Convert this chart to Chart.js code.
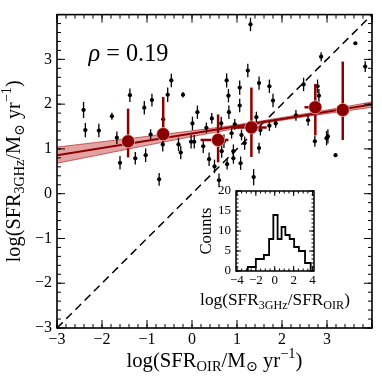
<!DOCTYPE html>
<html><head><meta charset="utf-8">
<script src="https://cdn.jsdelivr.net/npm/chart.js@4"></script>
<style>
html,body{margin:0;padding:0;background:#fff;}
#wrap{position:relative;width:382px;height:382px;}
#main{position:absolute;left:0;top:0;}
#inset{position:absolute;left:190px;top:178px;}
</style>
</head><body>
<div id="wrap"><canvas id="main" width="382" height="382"></canvas><canvas id="inset" width="180" height="140"></canvas></div>
<script>
// ---------------- data ----------------
const ptX = [-2.41,-2.37,-2.07,-1.78,-1.67,-1.60,-1.38,-1.26,-1.06,-1.03,-0.89,-0.92,-0.73,-0.65,-0.64,-0.54,-0.46,-0.20,-0.30,-0.25,
  1.30,3.63,3.85,2.87,2.48,2.79,2.82,0.77,1.24,1.49,1.72,1.06,0.81,0.82,1.06,1.80,0.12,0.44,0.01,0.65,0.95,1.43,1.52,1.72,1.86,2.31,2.58,
  0.88,1.10,-0.02,0.05,0.25,0.71,1.17,1.49,0.66,0.92,0.38,0.50,0.78,0.92,1.08,1.37,0.60,2.73,2.99,3.02,3.19,0.32];
const ptY = [1.87,1.42,1.41,1.73,1.25,0.69,2.20,0.79,1.92,0.86,2.09,1.32,0.32,1.10,1.66,2.21,2.53,2.21,1.10,0.92,
  3.78,3.36,2.84,3.06,2.44,2.40,2.19,2.53,2.75,2.47,2.40,2.37,2.19,1.82,1.97,2.08,1.82,1.68,1.57,1.57,1.55,1.71,1.42,1.52,1.57,1.75,1.64,
  1.35,1.31,1.16,1.16,1.06,1.17,1.13,1.02,0.95,0.95,0.77,0.61,0.66,0.79,0.68,0.37,0.30,1.17,1.24,1.28,0.86,1.47];
const ptYErr = [0.18,0.16,0.15,0.08,0.14,0.15,0.15,0.14,0.15,0.15,0.14,0.12,0.14,0.16,0.15,0.16,0.15,0.06,0.15,0.15,
  0.15,0,0.12,0.10,0.15,0.15,0.15,0.16,0.15,0.15,0.15,0.16,0.15,0.15,0.15,0.15,0.15,0.12,0.15,0.15,0.12,0.12,0.12,0.12,0.10,0.12,0.12,
  0.12,0.12,0.15,0.15,0.15,0.15,0.15,0.12,0.15,0.15,0.15,0.15,0.12,0.12,0.15,0.18,0.15,0.12,0.16,0.16,0,0.12];
const ptXErr = 0.04;

const binX   = [-1.42,-0.64,0.58,1.32,2.74,3.35];
const binY   = [1.17,1.33,1.20,1.48,1.93,1.87];
const binYLo = [0.81,1.16,0.70,0.82,1.30,1.20];
const binYHi = [1.90,2.16,1.77,2.37,2.45,2.95];
const binXLo = [-1.42,-0.64,0.19,0.87,2.50,3.19];
const binXHi = [-1.42,-0.64,0.81,1.66,2.88,3.47];

const fitX = [-3, 4];
const fitY = [0.86, 1.99];
const bandX  = [-3,-2,-1,0,1,2,3,4];
const bandLo = [0.68,0.88,1.08,1.275,1.46,1.64,1.79,1.93];
const bandHi = [1.04,1.16,1.28,1.405,1.54,1.70,1.87,2.05];

const oneX = [-3, 4];
const oneY = [-3, 4];

const xTicks = [-3,-2,-1,0,1,2,3];
const yTicks = [-3,-2,-1,0,1,2,3];

// inset histogram
const histEdges  = [-2.85,-2.0,-1.15,-0.6,-0.15,0.3,0.72,1.12,1.58,2.05,2.55,3.2,3.8];
const histCounts = [1,3,4,8,14,8,11,9,8,6,5,2];
const inXTicks = [-4,-2,0,2,4];
const inYTicks = [0,5,10,15,20];

// ---------------- helpers ----------------
const FONT = "'Liberation Serif','DejaVu Serif',serif";
const RED = '#8b0000';
const fmt = v => (v < 0 ? '\u2212' + Math.abs(v) : String(v));
const xy = (xs, ys) => xs.map((x, i) => ({x, y: ys[i]}));

function richWidth(ctx, segs, size){
  let w = 0;
  for (const s of segs){
    const sz = s.k === 'n' ? size : size*0.7;
    ctx.font = (s.i ? 'italic ' : '') + sz + 'px ' + FONT;
    w += ctx.measureText(s.t).width;
  }
  return w;
}
function drawRich(ctx, segs, size, x0){
  let x = x0;
  for (const s of segs){
    const sz = s.k === 'n' ? size : size*0.7;
    ctx.font = (s.i ? 'italic ' : '') + sz + 'px ' + FONT;
    const dy = s.k === 'sub' ? size*0.22 : (s.k === 'sup' ? -size*0.4 : 0);
    ctx.fillText(s.t, x, dy);
    x += ctx.measureText(s.t).width;
  }
}
function fitSize(ctx, segs, base, target){
  return base * target / richWidth(ctx, segs, base);
}
function drawLabel(ctx, segs, cx, cy, rot, base, target){
  const size = fitSize(ctx, segs, base, target);
  const w = richWidth(ctx, segs, size);
  ctx.save();
  ctx.translate(cx, cy);
  if (rot) ctx.rotate(-Math.PI/2);
  ctx.fillStyle = '#000';
  ctx.textBaseline = 'alphabetic';
  ctx.textAlign = 'left';
  drawRich(ctx, segs, size, -w/2);
  ctx.restore();
}

const frameTicks = {
  id: 'frameTicks',
  beforeDatasetsDraw(chart, args, o){
    if (o.bg){ const a = chart.chartArea; chart.ctx.save(); chart.ctx.fillStyle = '#fff';
      chart.ctx.fillRect(a.left, a.top, a.right - a.left, a.bottom - a.top); chart.ctx.restore(); }
  },
  afterDraw(chart, args, o){
    const {ctx, chartArea: a, scales: {x, y}} = chart;
    ctx.save();
    ctx.strokeStyle = '#000';
    ctx.lineWidth = o.tickWidth;
    const seg = (x1, y1, x2, y2) => { ctx.beginPath(); ctx.moveTo(x1, y1); ctx.lineTo(x2, y2); ctx.stroke(); };
    const marks = (min, max, step) => { const r = []; const n = Math.round((max - min)/step);
      for (let i = 0; i <= n; i++) r.push(min + i*step); return r; };
    for (const [vals, len] of [[marks(o.xMinorStart, x.max, o.xMinor), o.minorLen], [marks(o.xMajorStart, x.max, o.xMajor), o.majorLen]]){
      for (const v of vals){ if (v < x.min - 1e-9 || v > x.max + 1e-9) continue; const p = x.getPixelForValue(v);
        seg(p, a.bottom, p, a.bottom - len); seg(p, a.top, p, a.top + len); }
    }
    for (const [vals, len] of [[marks(o.yMinorStart, y.max, o.yMinor), o.minorLen], [marks(o.yMajorStart, y.max, o.yMajor), o.majorLen]]){
      for (const v of vals){ if (v < y.min - 1e-9 || v > y.max + 1e-9) continue; const p = y.getPixelForValue(v);
        seg(a.left, p, a.left + len, p); seg(a.right, p, a.right - len, p); }
    }
    ctx.lineWidth = o.frameWidth;
    ctx.strokeRect(a.left, a.top, a.right - a.left, a.bottom - a.top);
    ctx.restore();
    if (o.after) o.after(chart);
  }
};

const errorBars = {
  id: 'errorBars',
  beforeDatasetDraw(chart, args){
    const ds = chart.data.datasets[args.index];
    if (!ds.err) return;
    const {ctx, scales: {x, y}} = chart;
    const e = ds.err;
    ctx.save();
    ctx.strokeStyle = e.color; ctx.lineWidth = e.width; ctx.lineCap = 'butt';
    ds.data.forEach((p, i) => {
      const px = x.getPixelForValue(p.x), py = y.getPixelForValue(p.y);
      const ylo = e.ylo(i), yhi = e.yhi(i), xlo = e.xlo(i), xhi = e.xhi(i);
      if (yhi > ylo){ ctx.beginPath(); ctx.moveTo(px, y.getPixelForValue(ylo)); ctx.lineTo(px, y.getPixelForValue(yhi)); ctx.stroke(); }
      if (xhi > xlo){ ctx.beginPath(); ctx.moveTo(x.getPixelForValue(xlo), py); ctx.lineTo(x.getPixelForValue(xhi), py); ctx.stroke(); }
    });
    ctx.restore();
  }
};

// ---------------- main chart ----------------
const yLabelSegs = [{t:'log(SFR',k:'n'},{t:'3GHz',k:'sub'},{t:'/M',k:'n'},{t:'\u2299',k:'sub'},{t:' yr',k:'n'},{t:'\u22121',k:'sup'},{t:')',k:'n'}];
const xLabelSegs = [{t:'log(SFR',k:'n'},{t:'OIR',k:'sub'},{t:'/M',k:'n'},{t:'\u2299',k:'sub'},{t:' yr',k:'n'},{t:'\u22121',k:'sup'},{t:')',k:'n'}];
const rhoSegs = [{t:'\u03c1',k:'n',i:true},{t:' = 0.19',k:'n'}];

new Chart(document.getElementById('main'), {
  type: 'scatter',
  data: {
    datasets: [
      { type:'line', data: xy(oneX, oneY), borderColor:'#000', borderWidth:1.5, borderDash:[8,5], pointRadius:0, fill:false, order:6 },
      { type:'line', data: xy(bandX, bandHi), borderColor:'rgba(185,45,45,0.75)', borderWidth:1, pointRadius:0, fill:'+1', backgroundColor:'rgba(195,50,50,0.45)', tension:0.4, order:5 },
      { type:'line', data: xy(bandX, bandLo), borderColor:'rgba(185,45,45,0.75)', borderWidth:1, pointRadius:0, fill:false, tension:0.4, order:4 },
      { data: xy(ptX, ptY), pointRadius:2.1, pointBackgroundColor:'#000', pointBorderWidth:0, order:3,
        err: { color:'#000', width:1.3,
          ylo: i => ptY[i] - ptYErr[i], yhi: i => ptY[i] + ptYErr[i],
          xlo: i => ptYErr[i] > 0 ? ptX[i] - ptXErr : ptX[i], xhi: i => ptYErr[i] > 0 ? ptX[i] + ptXErr : ptX[i] } },
      { type:'line', data: xy(fitX, fitY), borderColor: RED, borderWidth:2, pointRadius:0, fill:false, order:2 },
      { data: xy(binX, binY), pointRadius:6.6, pointBackgroundColor: RED, pointBorderColor:'rgba(255,225,225,0.8)', pointBorderWidth:0.8, order:1,
        err: { color: RED, width:2.5,
          ylo: i => binYLo[i], yhi: i => binYHi[i], xlo: i => binXLo[i], xhi: i => binXHi[i] } }
    ]
  },
  options: {
    responsive:false, animation:false, devicePixelRatio:1,
    layout: { padding: { left:0, top:7, right:10, bottom:0 } },
    plugins: {
      legend:{display:false}, tooltip:{enabled:false},
      frameTicks: { xMajor:1, xMajorStart:-3, xMinor:0.2, xMinorStart:-3, yMajor:1, yMajorStart:-3, yMinor:0.2, yMinorStart:-3,
        majorLen:8, minorLen:4, tickWidth:1, frameWidth:1.6,
        after: chart => {
          const ctx = chart.ctx, a = chart.chartArea;
          drawLabel(ctx, xLabelSegs, (a.left + a.right)/2, 366.5, false, 17, 176);
          drawLabel(ctx, yLabelSegs, 19.5, (a.top + a.bottom)/2, true, 17, 182);
          // rho annotation
          const size = fitSize(ctx, rhoSegs, 20, 80);
          ctx.save(); ctx.fillStyle = '#000'; ctx.textBaseline = 'alphabetic';
          ctx.translate(a.left + 0.1*(a.right - a.left), a.top + 0.125*(a.bottom - a.top) + 7);
          drawRich(ctx, rhoSegs, size, 0); ctx.restore();
        } }
    },
    scales: {
      x: { type:'linear', min:-3, max:4, position:'bottom',
        grid:{display:false, drawTicks:false}, border:{display:false},
        afterBuildTicks: s => { s.ticks = xTicks.map(v => ({value:v})); },
        afterFit: s => { s.height = 54; },
        ticks: { font:{family:FONT, size:16}, color:'#000', padding:2, maxRotation:0, autoSkip:false, callback: v => fmt(v) } },
      y: { type:'linear', min:-3, max:4, position:'left',
        grid:{display:false, drawTicks:false}, border:{display:false},
        afterBuildTicks: s => { s.ticks = yTicks.map(v => ({value:v})); },
        afterFit: s => { s.width = 57; },
        ticks: { font:{family:FONT, size:16}, color:'#000', padding:5, autoSkip:false, callback: v => fmt(v) } }
    }
  },
  plugins: [errorBars, frameTicks]
});

// ---------------- inset ----------------
const histPts = [{x: histEdges[0], y: 0}];
histCounts.forEach((c, i) => histPts.push({x: histEdges[i], y: c}));
histPts.push({x: histEdges[histEdges.length - 1], y: 0});

const inXLabelSegs = [{t:'log(SFR',k:'n'},{t:'3GHz',k:'sub'},{t:'/SFR',k:'n'},{t:'OIR',k:'sub'},{t:')',k:'n'}];
const countsSegs = [{t:'Counts',k:'n'}];

new Chart(document.getElementById('inset'), {
  type: 'line',
  data: { datasets: [ { data: histPts, stepped: true, borderColor:'#000', borderWidth:1.8, pointRadius:0, fill:false } ] },
  options: {
    responsive:false, animation:false, devicePixelRatio:1,
    layout: { padding: { left:0, top:13, right:56, bottom:0 } },
    plugins: {
      legend:{display:false}, tooltip:{enabled:false},
      frameTicks: { bg:true, xMajor:2, xMajorStart:-4, xMinor:0.5, xMinorStart:-4, yMajor:5, yMajorStart:0, yMinor:1, yMinorStart:0,
        majorLen:5, minorLen:2.5, tickWidth:1, frameWidth:1.5,
        after: chart => {
          const ctx = chart.ctx, a = chart.chartArea;
          drawLabel(ctx, inXLabelSegs, (a.left + a.right)/2, 127, false, 14, 150);
          drawLabel(ctx, countsSegs, 21, (a.top + a.bottom)/2, true, 14, 47);
        } }
    },
    scales: {
      x: { type:'linear', min:-4.1, max:4.15, position:'bottom',
        grid:{display:false, drawTicks:false}, border:{display:false},
        afterBuildTicks: s => { s.ticks = inXTicks.map(v => ({value:v})); },
        afterFit: s => { s.height = 47; },
        ticks: { font:{family:FONT, size:13}, color:'#000', padding:2, maxRotation:0, autoSkip:false, callback: v => fmt(v) } },
      y: { type:'linear', min:0, max:20, position:'left',
        grid:{display:false, drawTicks:false}, border:{display:false},
        afterBuildTicks: s => { s.ticks = inYTicks.map(v => ({value:v})); },
        afterFit: s => { s.width = 46; },
        ticks: { font:{family:FONT, size:13}, color:'#000', padding:5, autoSkip:false, callback: v => fmt(v) } }
    }
  },
  plugins: [frameTicks]
});
</script>
</body></html>
